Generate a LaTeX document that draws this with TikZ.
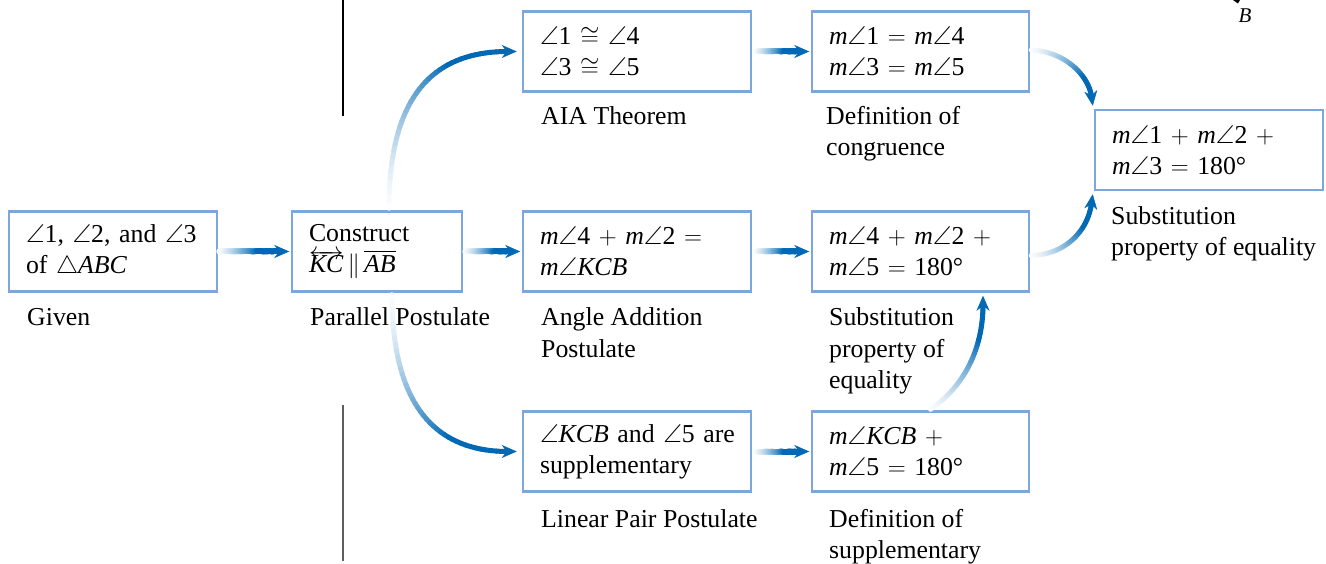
\documentclass[tikz,border=0pt]{standalone}
\usepackage{amsmath,amssymb}
\usepackage{fontspec}
\setmainfont{Liberation Serif}
\usetikzlibrary{arrows.meta,calc}
\definecolor{arrowblue}{RGB}{0,104,180}
\definecolor{boxblue}{RGB}{125,166,220}
\definecolor{rulegray}{RGB}{95,95,95}
\newcommand\myM{\textit{m}}
\newcommand\myA{$\angle$}
\newcommand\myLine[1]{\rlap{\raisebox{-4.5pt}{\smash{$\overleftrightarrow{\phantom{\mbox{\itshape #1}}}$}}}\mbox{\itshape #1}}
% gradient arrow along the Bezier gA..gD, tip at gT
\newcommand\gradcore[4]{%
  \coordinate (gD) at ($(gT)!9pt!(gC)$);
  \foreach \i in {0,...,40}{%
    \pgfmathsetmacro\myt{\i/40}%
    \pgfcoordinate{gp\i}{\pgfpointcurveattime{\myt}{\pgfpointanchor{gA}{center}}{\pgfpointanchor{gB}{center}}{\pgfpointanchor{gC}{center}}{\pgfpointanchor{gD}{center}}}%
  }%
  \foreach \i in {1,...,40}{%
    \pgfmathtruncatemacro\j{\i-1}%
    \pgfmathtruncatemacro\pc{min(100,100*(\i/#2)^1.3)}%
    \draw[arrowblue!\pc, line width=#1pt, line cap=round] (gp\j) -- (gp\i);
  }%
  \draw[arrowblue, line width=0.5pt, -{Stealth[length=#3,width=#4]}] (gD) -- (gT);
}
\newcommand\gcurve[4]{%
  \coordinate (gA) at #1; \coordinate (gB) at #2; \coordinate (gC) at #3; \coordinate (gT) at #4;
  \gradcore{5}{29}{15pt}{13pt}}
\newcommand\gline[2]{%
  \coordinate (gA) at #1; \coordinate (gT) at #2;
  \coordinate (gB) at ($(gA)!0.33!(gT)$); \coordinate (gC) at ($(gA)!0.67!(gT)$);
  \gradcore{6}{24}{15pt}{13pt}}
\tikzset{
  pbox/.style={draw=boxblue, line width=2.5pt, minimum height=80pt, inner xsep=17pt, inner ysep=0pt, align=left},
  lab/.style={anchor=base west, inner sep=0pt},
}
\begin{document}
\begin{tikzpicture}[x=1pt,y=-1pt, font=\fontsize{25.8pt}{31pt}\selectfont]
\useasboundingbox (0,0) rectangle (1326,564);
% separator rules
\draw[line width=1.5pt, black] (343,0) -- (343,116);
\draw[line width=2pt, rulegray] (343,405) -- (343,561);
% boxes
\node[pbox, text width=174pt] (b1) at (113,251.5) {\mbox{\myA1, \myA2, and \myA3}\\\mbox{of $\triangle$\textit{ABC}}};
\node[pbox, text width=136pt] (b2) at (377,251.5) {Construct\\\mbox{\myLine{KC}$\,\parallel\,$\smash{$\overline{\mbox{\itshape AB}}$}}};
\node[pbox, text width=194pt] (b3) at (637,51.5) {\myA1 $\cong$ \myA4\\\myA3 $\cong$ \myA5};
\node[pbox, text width=183pt] (b4) at (920.5,51.5) {\myM\myA1 $=$ \myM\myA4\\\myM\myA3 $=$ \myM\myA5};
\node[pbox, text width=194pt] (b5) at (1209,150) {\mbox{\myM\myA1 $+$ \myM\myA2 $+$}\\\myM\myA3 $=$ 180°};
\node[pbox, text width=194pt] (b6) at (637,251.5) {\mbox{\myM\myA4 $+$ \myM\myA2 $=$}\\\myM\myA\textit{KCB}};
\node[pbox, text width=183pt] (b7) at (920.5,251.5) {\mbox{\myM\myA4 $+$ \myM\myA2 $+$}\\\myM\myA5 $=$ 180°};
\node[pbox, text width=194pt] (b8) at (637,451.5) {\mbox{\myA\textit{KCB} and \myA5 are}\\supplementary};
\node[pbox, text width=183pt] (b9) at (920.5,451.5) {\mbox{\myM\myA\textit{KCB} $+$}\\\myM\myA5 $=$ 180°};
% labels
\node[lab] (l1) at (27,325) {Given};
\node[lab] (l2) at (310,325) {Parallel Postulate};
\node[lab] (l3) at (541,125) {AIA Theorem};
\node[lab] (l4a) at (826,125) {Definition of};
\node[lab] (l4b) at (826,156) {congruence};
\node[lab] (l5a) at (1111,225) {Substitution};
\node[lab] (l5b) at (1111,256) {property of equality};
\node[lab] (l6a) at (541,326) {Angle Addition};
\node[lab] (l6b) at (541,357) {Postulate};
\node[lab] (l7a) at (829,326) {Substitution};
\node[lab] (l7b) at (829,357) {property of};
\node[lab] (l7c) at (829,388) {equality};
\node[lab] (l8) at (541,527) {Linear Pair Postulate};
\node[lab] (l9a) at (829,527) {Definition of};
\node[lab] (l9b) at (829,558) {supplementary};
\node[anchor=base, inner sep=0pt, font=\fontsize{21pt}{25pt}\selectfont] (lb) at (1245,23) {\textit{B}};
\fill (1233,0) -- (1240,0) -- (1238,3.5) -- cycle;
% straight arrows
\gline{($(b1.east)+(1,0)$)}{($(b2.west)+(-1.5,0)$)}
\gline{($(b2.east)+(2,0)$)}{($(b6.west)+(-1.5,0)$)}
\gline{($(b3.east)+(3,0)$)}{($(b4.west)+(-1.5,0)$)}
\gline{($(b6.east)+(3,0)$)}{($(b7.west)+(-1.5,0)$)}
\gline{($(b8.east)+(3,0)$)}{($(b9.west)+(-1.5,0)$)}
% curved arrows
\gcurve{($(b2.north)+(12,-2)$)}{($(b2.north)+(12,-110)$)}{($(b3.west)+(-92,0)$)}{($(b3.west)+(-5,0)$)}
\gcurve{($(b2.south)+(15,2)$)}{($(b2.south)+(15,105)$)}{($(b8.west)+(-92,0)$)}{($(b8.west)+(-5,0)$)}
\gcurve{($(b9.north)+(10,-1)$)}{($(b9.north)+(48,-27)$)}{($(b7.south)+(62.5,50)$)}{($(b7.south)+(62.5,3)$)}
\gcurve{($(b4.east)+(1,-1.5)$)}{($(b4.east)+(35,0)$)}{($(b5.north west)+(-5,-33)$)}{($(b5.north west)+(-1,-3)$)}
\gcurve{($(b7.east)+(1,4)$)}{($(b7.east)+(35,3)$)}{($(b5.south west)+(-6,40)$)}{($(b5.south west)+(-1,3)$)}
\end{tikzpicture}
\end{document}
